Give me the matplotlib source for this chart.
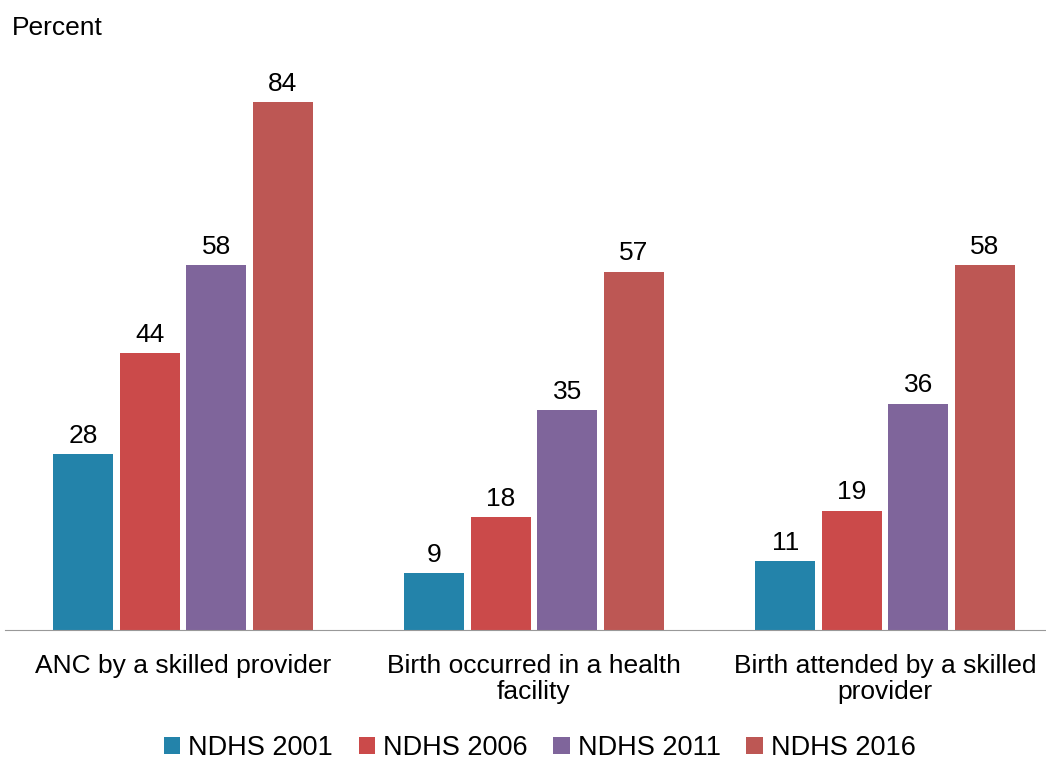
import numpy as np
import matplotlib.pyplot as plt

plt.rcParams['font.family'] = ['Liberation Sans', 'DejaVu Sans']

categories = ['ANC by a skilled provider', 'Birth occurred in a health\nfacility',
              'Birth attended by a skilled\nprovider']
series = ['NDHS 2001', 'NDHS 2006', 'NDHS 2011', 'NDHS 2016']
values = {
    'NDHS 2001': [28, 9, 11],
    'NDHS 2006': [44, 18, 19],
    'NDHS 2011': [58, 35, 36],
    'NDHS 2016': [84, 57, 58],
}
colors = ['#2383AA', '#CB4A4A', '#7F659B', '#BD5754']

fig = plt.figure(figsize=(10.46, 7.6), dpi=100)
ax = fig.add_axes([5 / 1046, 0.171, 1 - 5 / 1046, 0.7444])

x = np.arange(len(categories))
width = 0.171
step = 0.1895
for i, s in enumerate(series):
    pos = x + (i - 1.5) * step
    bars = ax.bar(pos, values[s], width, color=colors[i], label=s)
    for b, v in zip(bars, values[s]):
        ax.text(b.get_x() + b.get_width() / 2, v + 1.0, str(v),
                ha='center', va='bottom', fontsize=19)

ax.set_xlim(-0.507, 2.459)
ax.set_ylim(0, 90)
ax.set_yticks([])
for sp in ['top', 'right', 'left']:
    ax.spines[sp].set_visible(False)
ax.spines['bottom'].set_color('#999999')
ax.set_xticks(x)
ax.set_xticklabels(categories, fontsize=19, linespacing=1.1)
ax.tick_params(axis='x', length=0, pad=17)

fig.text(12 / 1046, 1 - 28 / 760, 'Percent', fontsize=19, va='center', ha='left')

fig.legend(loc='center', bbox_to_anchor=(0.516, 1 - 748 / 760), ncol=4, frameon=False,
           fontsize=19.5, handlelength=0.6, handleheight=0.6, handletextpad=0.3,
           columnspacing=0.95)

fig.savefig('out.png', dpi=100)
